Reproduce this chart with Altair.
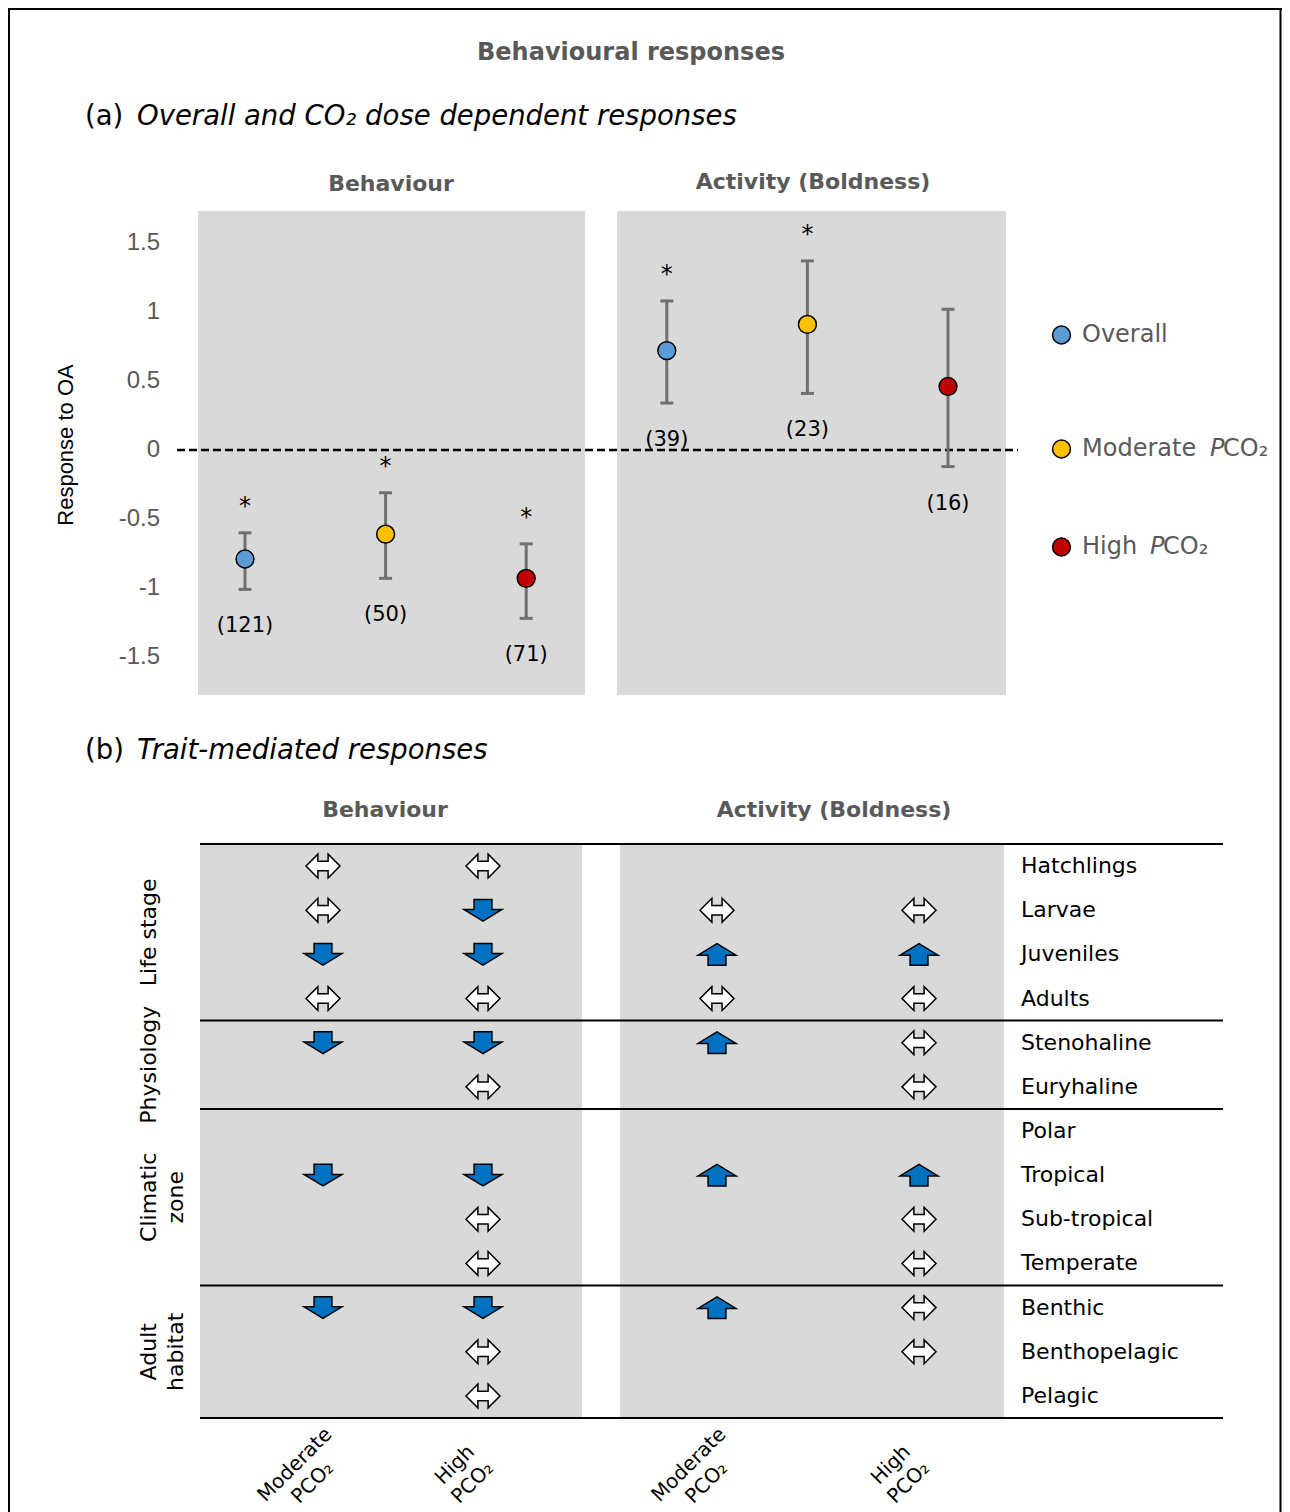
import altair as alt
import pandas as pd

# ---------------- Panel (a) data ----------------
a_group = ["Behaviour", "Behaviour", "Behaviour",
           "Activity (Boldness)", "Activity (Boldness)", "Activity (Boldness)"]
a_series = ["Overall", "Moderate", "High", "Overall", "Moderate", "High"]
a_mean = [-0.79, -0.61, -0.93, 0.72, 0.91, 0.46]
a_lower = [-1.01, -0.93, -1.22, 0.34, 0.41, -0.12]
a_upper = [-0.60, -0.31, -0.68, 1.08, 1.37, 1.02]
a_n = [121, 50, 71, 39, 23, 16]
a_significant = [True, True, True, True, True, False]
y_ticks = [-1.5, -1.0, -0.5, 0.0, 0.5, 1.0, 1.5]
series_names = ["Overall", "Moderate", "High"]
series_colors = ["#5B9BD5", "#FFC000", "#C00000"]

# ---------------- Panel (b) data ----------------
traits = ["Hatchlings", "Larvae", "Juveniles", "Adults",
          "Stenohaline", "Euryhaline",
          "Polar", "Tropical", "Sub-tropical", "Temperate",
          "Benthic", "Benthopelagic", "Pelagic"]
trait_groups = ["Life stage", "Physiology", "Climatic\nzone", "Adult\nhabitat"]
group_sizes = [4, 2, 4, 3]
b_column_labels = ["Moderate\nPCO\u2082", "High\nPCO\u2082", "Moderate\nPCO\u2082", "High\nPCO\u2082"]
resp_beh_moderate = ["none", "none", "down", "none", "down", "", "", "down", "", "", "down", "", ""]
resp_beh_high     = ["none", "down", "down", "none", "down", "none", "", "down", "none", "none", "down", "none", "none"]
resp_act_moderate = ["", "none", "up", "none", "up", "", "", "up", "", "", "up", "", ""]
resp_act_high     = ["", "none", "up", "none", "none", "none", "", "up", "none", "none", "none", "none", ""]

# ---------------- layout (pixels) ----------------
W, H = 1274, 1504


def P(v):
    return v - 8  # page pixel -> chart pixel


FONT = "DejaVu Sans"
ARIAL = "Liberation Sans"
GRAY = "#595959"
BG = "#D9D9D9"
ERR = "#707070"

xa_scale = alt.Scale(domain=[1, 6], range=[P(245), P(948)], zero=False, nice=False)
ya_scale = alt.Scale(domain=[-1.5, 1.5], range=[P(657), P(243)], zero=False, nice=False)
yb_scale = alt.Scale(domain=[-0.5, 12.5], range=[P(844), P(1418)], zero=False, nice=False)
col_px = [P(323), P(483), P(717), P(919)]
color_scale = alt.Scale(domain=series_names, range=series_colors)

PATH_DOWN = "M-0.47,-0.57L0.47,-0.57L0.47,-0.04L1,-0.04L0,0.57L-1,-0.04L-0.47,-0.04Z"
PATH_UP = "M-0.47,0.57L0.47,0.57L0.47,0.04L1,0.04L0,-0.57L-1,0.04L-0.47,0.04Z"
PATH_BOTH = "M-1,0L-0.3,-0.7L-0.3,-0.28L0.3,-0.28L0.3,-0.7L1,0L0.3,0.7L0.3,0.28L-0.3,0.28L-0.3,0.7Z"


def txt(text, x, y, size, color="black", weight="normal", style="normal",
        align="left", baseline="middle", font=FONT, angle=0):
    return alt.Chart(pd.DataFrame({"t": [text]})).mark_text(
        fontSize=size, color=color, fontWeight=weight, fontStyle=style,
        align=align, baseline=baseline, font=font, angle=angle, lineBreak="\n"
    ).encode(text="t:N", x=alt.value(P(x)), y=alt.value(P(y)))


# ---------------- Panel (a) ----------------
df_a = pd.DataFrame({
    "slot": list(range(1, len(a_mean) + 1)),
    "group": a_group, "series": a_series, "mean": a_mean,
    "lower": a_lower, "upper": a_upper,
    "nlab": [f"({n})" for n in a_n],
    "star": ["*" if s else "" for s in a_significant],
})

xA = alt.X("slot:Q", scale=xa_scale, axis=None)

bg_a = alt.Chart(pd.DataFrame({"x0": [P(198), P(617)], "x1": [P(585), P(1006)]})).mark_rect(
    color=BG).encode(x=alt.X("x0:Q", scale=None), x2="x1:Q",
                     y=alt.value(P(211)), y2=alt.value(P(695)))

zero_line = alt.Chart(pd.DataFrame({"v": [0.0]})).mark_rule(
    color="black", strokeDash=[8, 4], strokeWidth=2.5).encode(
    y=alt.Y("v:Q", scale=ya_scale, axis=None),
    x=alt.value(P(177)), x2=alt.value(P(1018)))

err = alt.Chart(df_a).mark_rule(color=ERR, strokeWidth=3).encode(
    x=xA, y=alt.Y("lower:Q", scale=ya_scale, axis=None), y2="upper:Q")
cap_hi = alt.Chart(df_a).mark_rule(color=ERR, strokeWidth=3, xOffset=-6.5, x2Offset=6.5).encode(
    x=xA, x2="slot:Q", y=alt.Y("upper:Q", scale=ya_scale, axis=None))
cap_lo = alt.Chart(df_a).mark_rule(color=ERR, strokeWidth=3, xOffset=-6.5, x2Offset=6.5).encode(
    x=xA, x2="slot:Q", y=alt.Y("lower:Q", scale=ya_scale, axis=None))
pts = alt.Chart(df_a).mark_circle(size=320, opacity=1, stroke="black", strokeWidth=1.5).encode(
    x=xA, y=alt.Y("mean:Q", scale=ya_scale, axis=None),
    color=alt.Color("series:N", scale=color_scale, legend=None))
stars = alt.Chart(df_a).mark_text(fontSize=24, dy=-26, font=FONT, color="black").encode(
    x=xA, y=alt.Y("upper:Q", scale=ya_scale, axis=None), text="star:N")
counts = alt.Chart(df_a).mark_text(fontSize=21, dy=37, font=FONT, color="black").encode(
    x=xA, y=alt.Y("lower:Q", scale=ya_scale, axis=None), text="nlab:N")

ticks = alt.Chart(pd.DataFrame({"v": y_ticks, "lab": [f"{v:g}" for v in y_ticks]})).mark_text(
    align="right", baseline="middle", fontSize=24, font=ARIAL, color=GRAY).encode(
    y=alt.Y("v:Q", scale=ya_scale, axis=None), x=alt.value(P(160)), text="lab:N")

# legend (drawn with the same colour scale)
leg_y = [P(335), P(449), P(547)]
df_leg = pd.DataFrame({"series": series_names, "y": leg_y,
                       "lab": ["Overall", "Moderate", "High"]})
leg_pts = alt.Chart(df_leg).mark_circle(size=320, opacity=1, stroke="black", strokeWidth=1.5).encode(
    x=alt.value(P(1061.5)), y=alt.Y("y:Q", scale=None),
    color=alt.Color("series:N", scale=color_scale, legend=None))
leg_txt = alt.Chart(df_leg).mark_text(align="left", baseline="middle", fontSize=24,
                                      font=FONT, color=GRAY).encode(
    x=alt.value(P(1082)), y=alt.Y("y:Q", scale=None), text="lab:N")
df_leg2 = pd.DataFrame({"y": leg_y[1:], "px": [P(1210), P(1150)], "cx": [P(1223), P(1163)]})
leg_p = alt.Chart(df_leg2).mark_text(align="left", baseline="middle", fontSize=24, font=FONT,
                                     fontStyle="italic", color=GRAY, text="P").encode(
    x=alt.X("px:Q", scale=None), y=alt.Y("y:Q", scale=None))
leg_co = alt.Chart(df_leg2).mark_text(align="left", baseline="middle", fontSize=24, font=FONT,
                                      color=GRAY, text="CO\u2082").encode(
    x=alt.X("cx:Q", scale=None), y=alt.Y("y:Q", scale=None))

# ---------------- Panel (b) ----------------
bounds = [-0.5]
for g in group_sizes:
    bounds.append(bounds[-1] + g)
df_rules = pd.DataFrame({"ri": bounds})
starts = bounds[:-1]
df_groups = pd.DataFrame({"grp": trait_groups,
                          "ri": [s + (g - 1) / 2 + 0.5 for s, g in zip(starts, group_sizes)]})
df_traits = pd.DataFrame({"trait": traits, "ri": list(range(len(traits)))})

rows = []
for ci, resp in enumerate([resp_beh_moderate, resp_beh_high, resp_act_moderate, resp_act_high]):
    for ri, d in enumerate(resp):
        if d:
            rows.append({"px": col_px[ci], "ri": ri, "dir": d})
df_arr = pd.DataFrame(rows)

yB = alt.Y("ri:Q", scale=yb_scale, axis=None)

bg_b = alt.Chart(pd.DataFrame({"x0": [P(200), P(620)], "x1": [P(582), P(1004)]})).mark_rect(
    color=BG).encode(x=alt.X("x0:Q", scale=None), x2="x1:Q",
                     y=alt.value(P(844)), y2=alt.value(P(1418)))
rules_b = alt.Chart(df_rules).mark_rule(color="black", strokeWidth=2).encode(
    y=yB, x=alt.value(P(200)), x2=alt.value(P(1223)))


def arrows(direction, path, size, fill):
    return alt.Chart(df_arr).transform_filter(alt.datum.dir == direction).mark_point(
        shape=path, size=size, filled=True, fill=fill, stroke="black",
        strokeWidth=1.5, opacity=1, fillOpacity=1).encode(
        x=alt.X("px:Q", scale=None), y=yB)


arr_down = arrows("down", PATH_DOWN, 1444, "#0070C0")
arr_up = arrows("up", PATH_UP, 1444, "#0070C0")
arr_both = arrows("none", PATH_BOTH, 1156, "white")

row_lab = alt.Chart(df_traits).mark_text(align="left", baseline="middle", fontSize=22,
                                         font=FONT, color="black").encode(
    x=alt.value(P(1021)), y=yB, text="trait:N")
grp_lab = alt.Chart(df_groups).mark_text(align="center", baseline="middle", fontSize=22,
                                         font=FONT, color="black", angle=270,
                                         lineBreak="\n", lineHeight=27).encode(
    x=alt.value(P(149)), y=yB, text="grp:N")
df_cols = pd.DataFrame({"lab": b_column_labels, "px": [c - 28 for c in col_px]})
col_lab = alt.Chart(df_cols).mark_text(align="center", baseline="middle", fontSize=20,
                                       font=FONT, color="black", angle=315,
                                       lineBreak="\n", lineHeight=25).encode(
    x=alt.X("px:Q", scale=None), y=alt.value(P(1465)), text="lab:N")

# ---------------- frame & titles ----------------
frame = alt.Chart(pd.DataFrame({"x": [1.0, W - 1.5]})).mark_rule(color="black", strokeWidth=2).encode(
    x=alt.X("x:Q", scale=None), y=alt.value(0), y2=alt.value(H))
frame_top = alt.Chart(pd.DataFrame({"y": [1.0]})).mark_rule(color="black", strokeWidth=2).encode(
    y=alt.Y("y:Q", scale=None), x=alt.value(0), x2=alt.value(W))

titles = [
    txt("Behavioural responses", 631, 53, 24, color=GRAY, weight="bold", align="center"),
    txt("(a)", 85, 117, 27.5),
    txt("Overall and CO\u2082 dose dependent responses", 137, 117, 27.5, style="italic"),
    txt("Behaviour", 391, 184, 22, color=GRAY, weight="bold", align="center"),
    txt("Activity (Boldness)", 813, 182, 22, color=GRAY, weight="bold", align="center"),
    txt("Response to OA", 66, 445, 22, font=ARIAL, align="center", angle=270),
    txt("(b)", 85, 751, 27.5),
    txt("Trait-mediated responses", 137, 751, 27.5, style="italic"),
    txt("Behaviour", 385, 810, 22, color=GRAY, weight="bold", align="center"),
    txt("Activity (Boldness)", 834, 810, 22, color=GRAY, weight="bold", align="center"),
]

chart = alt.layer(
    bg_a, bg_b, zero_line, err, cap_hi, cap_lo, pts, stars, counts, ticks,
    leg_pts, leg_txt, leg_p, leg_co,
    rules_b, arr_down, arr_up, arr_both, row_lab, grp_lab, col_lab,
    frame, frame_top, *titles
).resolve_scale(
    x="independent", y="independent", color="independent"
).properties(
    width=W, height=H, autosize="none", padding=0, background="white"
).configure_view(stroke=None)

chart.save("out.html", embed_options={"renderer": "svg", "actions": False})
